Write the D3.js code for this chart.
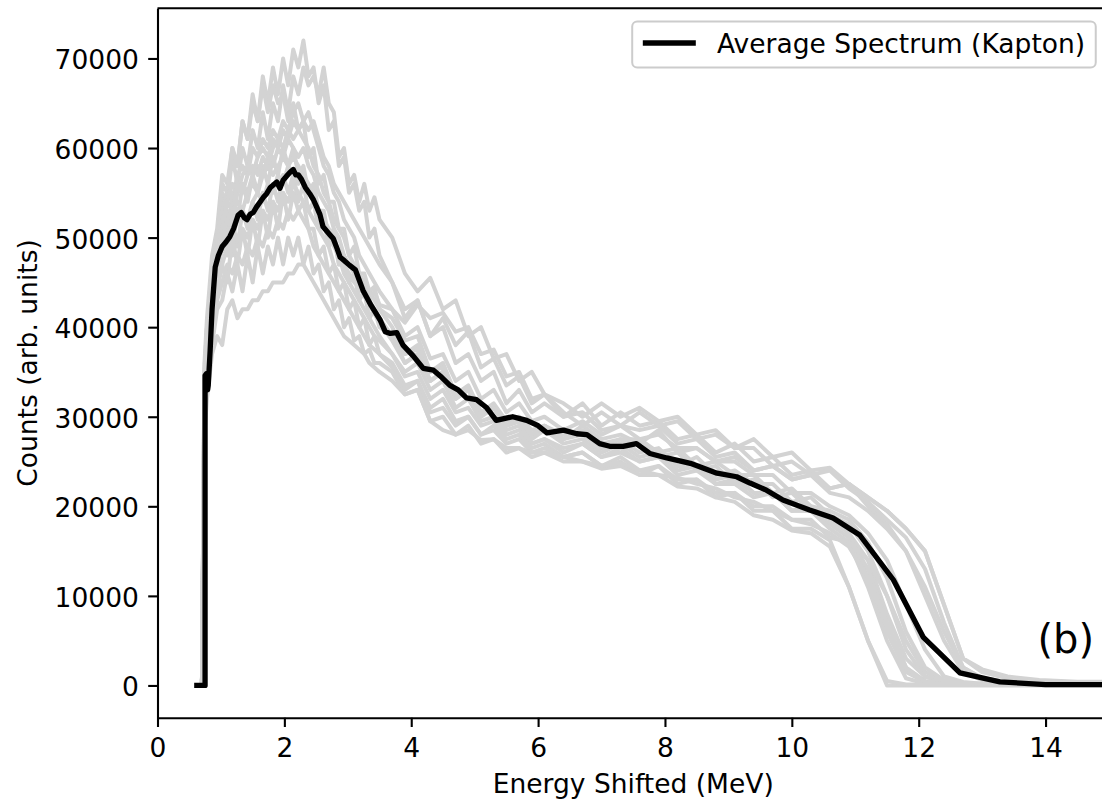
<!DOCTYPE html>
<html>
<head>
<meta charset="utf-8">
<script src="https://cdn.jsdelivr.net/npm/d3@7"></script>
<style>
body { margin: 0; background: #fff; }
text { font-family: "DejaVu Sans", sans-serif; }
</style>
</head>
<body>
<div id="chart"></div>
<script>
// energy grid shared by the individual spectra (MeV)
var greyEnergy = [0.70, 0.74, 0.78, 0.86, 0.94, 1.02, 1.10, 1.18, 1.26, 1.34, 1.42, 1.50, 1.58, 1.66, 1.74,
  1.82, 1.90, 1.98, 2.06, 2.14, 2.22, 2.30, 2.38, 2.46, 2.54, 2.62, 2.70, 2.78, 2.86, 2.94, 3.02, 3.10, 3.18,
  3.26, 3.34, 3.42, 3.50,
  3.70, 3.90, 4.10, 4.30, 4.50, 4.70, 4.90, 5.10, 5.30, 5.50, 5.70, 5.90, 6.10,
  6.40, 6.70, 7.00, 7.30, 7.60, 7.90, 8.20, 8.50, 8.80, 9.10, 9.40, 9.70, 10.00, 10.30, 10.60, 10.90, 11.20,
  11.50, 11.80, 12.10, 12.40, 12.70, 13.00, 13.40, 13.90, 14.50, 15.00];

// individual spectra, counts in thousands
var grey01 = [0,36,41,48,51,57,56,60,58,63,61,66,63,68,65,69,66,70,67,71,69,72,68,69,65,67,62,63,58,59,55,56,53,54,50,51,48,
  45,41,43,39,40,36,37,34,35,31.5,33,30.5,31.5,
  30,31.5,29,30.5,29,29.5,27.5,28,26,27,25,25.5,23.5,24,22,22.5,20,18,15,10,5,1.5,0.6,0.3,0.2,0.2,0.2];
var grey02 = [0,35,40,46,50,55,54,59,56,60,58,62,60,64,61,65,63,67,64,68,66,69,67,68,66,69,65,64,59,60,56,57,54,56,53,54.5,52,
  50,46,44,45.5,42,43,39,40,36.5,37,34,35,32.5,
  31.5,30,31.5,30,31,29.5,30,28,28.5,26.5,27.5,25.5,26,24,24.3,22.5,21,19.5,17.5,15,9,3,1.8,1,0.6,0.4,0.4];
var grey03 = [0,35,40,46,50,56,55,60,58,63,61,65,63,67,64,67,65,66,63,65,62,63,59,60,56,57,54,54,51,51,48,49,46,46,44,44.5,42,
  40,37,38,35,36,32.5,33,30.5,31.5,29.5,30,28,29,
  27.5,28.5,26.5,27.5,26,26.5,24.5,25.5,23.5,24,22.5,22.5,20.5,21,19,18,15,10,4,1,0.4,0.2,0.1,0.1,0.1,0.1,0.1];
var grey04 = [0,34,39,45,50,53,55,54,57,58,57,60,59,61,60,62,61,63,62,64,65,63,64,62,60,58,57,55,54,52,51,50,48,47,46,45,44,
  42,39,40,36.5,37,34,35,32,33,30.5,31.5,29.5,30,
  28.5,29.5,28,29,28.5,29,27,27.5,25.5,26,24,24.5,23,23.5,21.5,21,19.5,17.5,15,11,6,2,0.8,0.4,0.2,0.2,0.2];
var grey05 = [0,33,38,44,49,52,54,56,55,57,58,57,59,60,59,61,60,62,61,63,62,61,60,58,57,55,54,52,51,50,48,47,46,45,44,43,42,
  41,38.5,39,35,35.5,32.5,33.5,30.5,31,29,29.5,28,28.5,
  27.5,28,26.5,27,27.5,25.5,26,24,24.5,22.5,23,21,21.5,19.5,19,17,12,6,1.5,0.4,0.2,0.1,0.1,0.1,0.1,0.1,0.1];
var grey06 = [0,33,37,43,48,51,53,52,55,56,55,57,58,57,59,58,60,59,61,60,59,60,58,57,55,54,53,51,50,48,47,46,45,44,43,42,41,
  39,37,37.5,34,35,32,33,30.5,31,29,29.5,27.5,28.5,
  27,27.5,26,27,25.5,26,24.5,24.5,23,23.5,21.5,21.5,19.5,20,18.5,17,14,8,3,1,0.4,0.2,0.1,0.1,0.1,0.1,0.1];
var grey07 = [0,32,37,43,47,51,50,55,52,56,54,57,55,58,56,59,57,60,58,60,57,58,55,56,53,53,50,51,47,48,45,46,43,44,41,42,40,
  39,36,37,34,35,32,33,30,31,29,29.5,28,29,
  27.5,29,27.5,28,27,28.5,26,26.5,25,25.5,24,24.5,23,23.5,22,22.5,21,19.5,17.5,15,9,3,1.5,0.8,0.4,0.3,0.3];
var grey08 = [0,32,36,42,46,49,51,50,52,53,52,54,55,54,56,55,57,56,58,57,56,57,55,54,53,52,50,49,48,46,45,44,43,42,41,40,39,
  37,35,36,33,34,31,32,29.5,30,28.5,29,27,27.5,
  26.5,27,25.5,26,25,25.5,24,24.5,22.5,23,21.5,21.5,19.5,19.5,18,16.5,13,7,2,0.5,0.2,0.1,0.1,0.1,0.1,0.1,0.1];
var grey09 = [0,31,36,41,46,49,48,52,49,53,51,54,52,55,53,56,54,57,55,57,54,56,53,54,51,52,49,50,47,48,45,46,44,45,43,44,42.5,
  42,40.5,42.5,41,41.6,39.5,40,37,37.5,34.5,35,32,32.5,
  30,30.5,28.5,29,27.5,28,26.5,26.5,25,25,23.5,23.5,21.5,21.5,20,19,17,14,9,4,1,0.4,0.2,0.1,0.1,0.1,0.1];
var grey10 = [0,31,35,41,45,47,49,48,50,51,50,52,51,53,52,54,53,55,54,56,55,54,53,52,51,50,49,47,46,45,44,43,42,41,40,39,38.5,
  37,34.5,35,32,33,30.5,31,29,29.5,28,28.5,27,27.5,
  26,27,25.5,26.5,25,25.5,23.5,24,22.5,22.5,21,21.5,19.5,19.5,17.5,16,11,5,0.8,0.2,0.1,0.1,0.1,0.1,0.1,0.1,0.1];
var grey11 = [0,30,35,40,44,47,45,50,47,51,48,52,49,53,50,54,51,55,52,55,53,54,51,51,48,49,46,47,44,45,42,43,40,41,38,39,37,
  36,33.5,34,30.5,31,29,30,28,29,27.5,28,26.5,27,
  25.5,26,24.5,25.5,24,24.5,22.5,23,21,21.5,19.5,19.5,17.5,17.5,16.2,11,5,0,0,0,0,0,0,0,0,0,0];
var grey12 = [0,30,34,39,43,45,47,46,48,47,49,48,50,49,51,50,52,51,53,52,53,52,51,49,48,47,46,45,44,43,42,41,40,39,38,37.5,37,
  35.5,33,34,31,32,29.5,30,28,28.5,27,27.5,26,26.5,
  25.5,26,24.5,25,23.5,24.5,23,23,21.5,21.5,20,20,18.5,18.5,16.5,16,14,10,5,1.5,0.5,0.2,0.1,0.1,0.1,0.1,0.1];
var grey13 = [0,29,34,38,42,43,46,44,47,44,48,45,49,46,49,47,50,47,50,48,50,47,49,46,47,44,45,42,43,40,41,38.5,39,37,37.5,36,36,
  35,32.5,33,29.5,30,28,29,27,27.5,26,26.5,25.5,26,
  25,25,24.2,24.5,23.5,23.5,22.2,22,21,20.5,19,18.5,17.3,17,15.5,11,5,0.5,0.1,0.1,0.1,0.1,0.1,0.1,0.1,0.1,0.1];
var grey14 = [0,28,32,37,39,38,42,43,41,42,42,43,43,44,44,45,45,45,46,46,47,47,46,45,44,43,42,41,40,39,38.5,38,37.5,37,36,35.5,35,
  34,32.5,33,29.5,28.5,28,28.5,27.4,27.5,26.5,26.5,26,26,
  25.5,25,24.5,24.8,24,23.5,23.2,22.5,22,21,20.5,19.5,18.5,18,17,15.5,12,7,2,0.4,0.1,0.1,0.1,0.1,0.1,0.1,0.1];
var grey15 = [0,34,38,44,48,51,54,53,56,55,57,58,57,59,58,60,61,60,62,61,62,63,62,63,61,59,58,56,55,54,53,52,51,50,49,48,47,
  45,42,43,39,41,38,39.5,35.5,36.5,33.5,34.5,31.5,32.5,
  30.5,29,30.5,29,30.5,29,29.5,27.5,28,26.5,26.5,24.5,25,23.5,24,22,20.5,18.5,16.5,13,7,2,0.8,0.4,0.2,0.2,0.2];
var grey16 = [0,32,37,42,47,50,52,53,54,53,55,56,55,57,58,57,58,59,58,59,58,57,56,55,53,52,51,50,48,47,46,45,44.5,43.5,42.5,41.5,40.5,
  38.5,36,37,34,35,32.5,33,30.5,31,29,30,28.5,29,
  28,28.5,27,27.5,27.5,26,26.5,24.5,25,23.5,23.5,21.5,22,20,19.5,18.5,16,12,6,2,0.6,0.3,0.2,0.1,0.1,0.1,0.1];

// average spectrum
var avgEnergy = [0.62, 0.75, 0.75, 0.77, 0.79, 0.80, 0.83, 0.86, 0.91, 0.96, 1.02, 1.08, 1.14, 1.20, 1.27,
  1.32, 1.37, 1.41, 1.46, 1.51, 1.56, 1.62, 1.67, 1.72, 1.78, 1.83, 1.88, 1.93, 1.98, 2.04, 2.09, 2.14, 2.18,
  2.22, 2.27, 2.33, 2.40, 2.46, 2.51, 2.56, 2.61, 2.66, 2.72, 2.77, 2.83, 2.88, 2.95, 3.03, 3.12, 3.24, 3.37,
  3.51, 3.59, 3.67, 3.77, 3.87, 4.03, 4.19, 4.35, 4.48, 4.61, 4.74, 4.87, 5.03, 5.19, 5.34, 5.60, 5.82, 6.00,
  6.14, 6.40, 6.61, 6.77, 6.97, 7.13, 7.34, 7.55, 7.76, 8.03, 8.40, 8.82, 9.13, 9.34, 9.60, 9.86, 10.28, 10.65,
  11.07, 11.60, 12.07, 12.65, 13.28, 14.00, 15.00];
var avgCounts = [0, 0, 34.6, 34.8, 33.0, 33.5, 37.4, 42.0, 46.7, 48.0, 49.0, 49.5, 50.1, 51.0, 52.5, 52.8, 52.2,
  52.0, 52.6, 52.8, 53.4, 54.0, 54.5, 54.9, 55.6, 55.9, 56.2, 55.5, 56.4, 56.9, 57.3, 57.6, 57.0, 57.0, 56.5,
  55.6, 54.9, 54.2, 53.4, 52.6, 51.2, 50.8, 50.3, 49.9, 48.8, 47.8, 47.4, 46.9, 46.4, 44.1, 42.4, 40.8, 39.5,
  39.3, 39.4, 38.0, 36.8, 35.4, 35.2, 34.4, 33.5, 33.0, 32.1, 31.9, 31.0, 29.6, 30.0, 29.6, 29.0, 28.2, 28.5,
  28.1, 28.0, 27.0, 26.7, 26.7, 27.0, 25.9, 25.4, 24.8, 23.7, 23.3, 22.6, 21.8, 20.7, 19.6, 18.7, 16.8, 11.8,
  5.4, 1.4, 0.4, 0.1, 0.1];

var xTicks = [0, 2, 4, 6, 8, 10, 12, 14];
var yTicks = [0, 10000, 20000, 30000, 40000, 50000, 60000, 70000];

var greySeries = [grey01, grey02, grey03, grey04, grey05, grey06, grey07, grey08,
  grey09, grey10, grey11, grey12, grey13, grey14, grey15, grey16];

var svgWidth = 1102, svgHeight = 799;
var margin = { top: 8.3, left: 157.5 };
var width = 1109 - margin.left;
var height = 717.7 - margin.top;
var fs = 26.5; // 10pt text

var svg = d3.select("#chart").append("svg")
  .attr("width", svgWidth)
  .attr("height", svgHeight);

var g = svg.append("g")
  .attr("transform", `translate(${margin.left}, ${margin.top})`);

var x = d3.scaleLinear().domain([0, 15]).range([0, width]);
var y = d3.scaleLinear().domain([-3600, 75600]).range([height, 0]);

g.append("clipPath").attr("id", "plotclip")
  .append("rect").attr("width", width).attr("height", height);

var plot = g.append("g").attr("clip-path", "url(#plotclip)");

// grey individual spectra
var greyLine = d3.line()
  .x((d, i) => x(greyEnergy[i]))
  .y(d => y(d * 1000));

plot.selectAll(".grey").data(greySeries).enter()
  .append("path")
  .attr("class", "grey")
  .attr("d", greyLine)
  .attr("fill", "none")
  .attr("stroke", "#d3d3d3")
  .attr("stroke-width", 4)
  .attr("stroke-linejoin", "round");

// average spectrum in black
var avgLine = d3.line()
  .x((d, i) => x(avgEnergy[i]))
  .y(d => y(d * 1000));

plot.append("path")
  .datum(avgCounts)
  .attr("d", avgLine)
  .attr("fill", "none")
  .attr("stroke", "#000")
  .attr("stroke-width", 5.3)
  .attr("stroke-linejoin", "round")
  .attr("stroke-linecap", "square");

// axes
var xAxis = d3.axisBottom(x).tickValues(xTicks).tickFormat(d3.format("d"))
  .tickSize(9.3).tickSizeOuter(0).tickPadding(9.3);
var yAxis = d3.axisLeft(y).tickValues(yTicks).tickFormat(d3.format("d"))
  .tickSize(9.3).tickSizeOuter(0).tickPadding(9.3);

var xg = g.append("g").attr("transform", `translate(0, ${height})`).call(xAxis);
var yg = g.append("g").call(yAxis);

[xg, yg].forEach(function(a) {
  a.attr("font-family", null).attr("font-size", null);
  a.select(".domain").attr("stroke", "#000").attr("stroke-width", 2.1);
  a.selectAll(".tick line").attr("stroke", "#000").attr("stroke-width", 2.1);
  a.selectAll("text").attr("fill", "#000")
    .style("font-size", fs + "px").style("font-family", "'DejaVu Sans'");
});
xg.selectAll("text").attr("dy", null).attr("y", 39.5);
yg.selectAll("text").attr("dy", "10.5px");

// top and right spines
g.append("line").attr("x1", 0).attr("x2", width).attr("y1", 0).attr("y2", 0)
  .attr("stroke", "#000").attr("stroke-width", 2.1);
g.append("line").attr("x1", width).attr("x2", width).attr("y1", 0).attr("y2", height)
  .attr("stroke", "#000").attr("stroke-width", 2.1);

// axis labels
svg.append("text")
  .attr("x", margin.left + width / 2).attr("y", 793)
  .attr("text-anchor", "middle")
  .style("font-size", fs + "px")
  .text("Energy Shifted (MeV)");

svg.append("text")
  .attr("transform", `translate(37, ${margin.top + height / 2}) rotate(-90)`)
  .attr("text-anchor", "middle")
  .style("font-size", fs + "px")
  .text("Counts (arb. units)");

// panel tag
svg.append("text")
  .attr("x", 1094).attr("y", 653)
  .attr("text-anchor", "end")
  .style("font-size", "40px")
  .text("(b)");

// legend, laid out like matplotlib's upper-right legend
var legend = svg.append("g");
var legRect = legend.append("rect");
var legText = legend.append("text")
  .attr("y", 52.5)
  .style("font-size", fs + "px")
  .text("Average Spectrum (Kapton)");
var tw = legText.node().getComputedTextLength();
var boxRight = margin.left + width - 0.5 * fs;
var textLeft = boxRight - 0.4 * fs - tw;
var lineRight = textLeft - 0.8 * fs;
var lineLeft = lineRight - 2 * fs;
var boxLeft = lineLeft - 0.4 * fs;
legText.attr("x", textLeft);
legRect
  .attr("x", boxLeft).attr("y", margin.top + 0.5 * fs)
  .attr("width", boxRight - boxLeft).attr("height", 46)
  .attr("rx", 5)
  .attr("fill", "#fff").attr("fill-opacity", 0.8)
  .attr("stroke", "#cccccc").attr("stroke-width", 2);
legend.append("line")
  .attr("x1", lineLeft).attr("x2", lineRight).attr("y1", 43).attr("y2", 43)
  .attr("stroke", "#000").attr("stroke-width", 5.3);
</script>
</body>
</html>
